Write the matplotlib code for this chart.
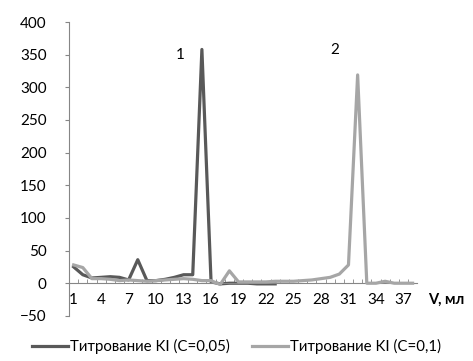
import matplotlib.pyplot as plt
import numpy as np

plt.rcParams['font.family'] = ['Lato', 'DejaVu Sans']

# volumes (category labels 1..38)
volume = list(range(1, 39))
tick_labels = [str(v) for v in range(1, 39, 3)]

# series 1: KI (C=0,05), ends at 23 ml
ki_005 = [25, 13, 8, 9, 10, 9, 5, 36, 4, 4, 6, 9, 13, 13, 358, 2,
          -1, 0, 0, 0, -1, -1, -1]
# series 2: KI (C=0,1)
ki_01 = [28, 24, 7, 7, 6, 4, 5, 4, 3, 4, 5, 6, 7, 6, 4, 4,
         -2, 19, 2, 2, 2, 2, 3, 3, 3, 4, 5, 7, 9, 14, 28, 319,
         0, 0, 3, 0, 0, 0]

dark = '#595959'
light = '#a6a6a6'

fig = plt.figure(figsize=(4.73, 3.61), dpi=100)
ax = fig.add_axes([0.146, 0.125, 0.736, 0.814])

ax.plot(volume[:len(ki_005)], ki_005, color=dark, lw=2.3,
        label='Титрование KI (C=0,05)', zorder=2)
ax.plot(volume[:len(ki_01)], ki_01, color=light, lw=2.3,
        label='Титрование KI (C=0,1)', zorder=3)

ax.set_xlim(0.5, 38.5)
ax.set_ylim(-50, 400)
ax.set_yticks(np.arange(-50, 401, 50))
ax.tick_params(axis='y', labelsize=11, length=3, color='#868686', pad=13)

for s in ['top', 'right']:
    ax.spines[s].set_visible(False)
ax.spines['bottom'].set_position(('data', 0))
for s in ['left', 'bottom']:
    ax.spines[s].set_color('#868686')
    ax.spines[s].set_linewidth(0.8)

ax.set_xticks([])
ax.set_xticks(np.arange(1.5, 38.5, 1), minor=True)
ax.tick_params(axis='x', which='minor', direction='in', length=3,
               color='#868686')
for lab in tick_labels:
    ax.text(int(lab), -26, lab, ha='center', va='center', fontsize=11)

ax.text(1.03, 0.055, 'V, мл', transform=ax.transAxes, fontsize=10.5,
        fontweight='bold', va='center', ha='left')
ax.text(12.6, 350, '1', fontsize=11, ha='center', va='center')
ax.text(29.5, 357, '2', fontsize=11, ha='center', va='center')

fig.legend(loc='center', bbox_to_anchor=(0.5, 0.04), ncol=2, frameon=False,
           fontsize=10.8, handlelength=2.4, handletextpad=0.1, columnspacing=1.5)

fig.savefig('out.png', dpi=100)
